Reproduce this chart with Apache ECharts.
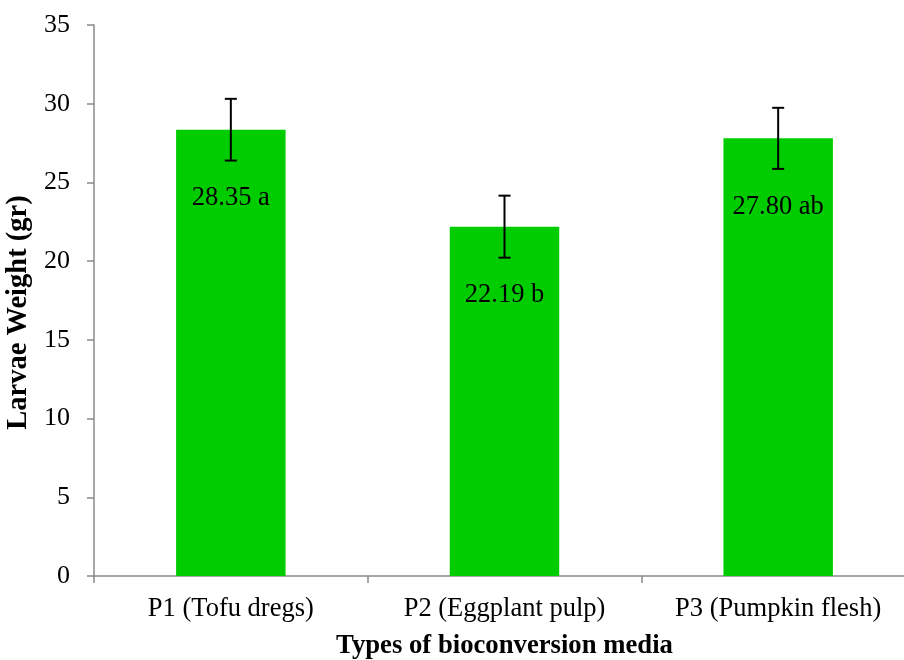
<!DOCTYPE html>
<html><head><meta charset="utf-8">
<script src="https://cdn.jsdelivr.net/npm/echarts@6/dist/echarts.min.js"></script>
<style>html,body{margin:0;padding:0;background:#fff}#c{width:904px;height:660px}</style>
</head><body><div id="c"></div>
<script>
var categories = ['P1 (Tofu dregs)', 'P2 (Eggplant pulp)', 'P3 (Pumpkin flesh)'];
var weights = [28.35, 22.19, 27.80];
var errors = [1.96, 1.97, 1.94];
var labels = ['28.35 a', '22.19 b', '27.80 ab'];
var yTicks = [0, 5, 10, 15, 20, 25, 30, 35];

var font = '"Liberation Serif", "Times New Roman", serif';
var chart = echarts.init(document.getElementById('c'));
var errData = weights.map(function (v, i) { return [i, v - errors[i], v + errors[i]]; });
chart.setOption({
  animation: false,
  grid: { left: 94, right: -11, top: 25, bottom: 84, containLabel: false, outerBoundsMode: 'none' },
  xAxis: {
    type: 'category', data: categories,
    name: 'Types of bioconversion media', nameLocation: 'middle', nameGap: 57,
    nameTextStyle: { fontFamily: font, fontWeight: 'bold', fontSize: 26.7, color: '#000' },
    axisLine: { lineStyle: { color: '#898989', width: 1.5 } },
    axisTick: { show: true, length: 7, lineStyle: { color: '#898989', width: 1.5 } },
    axisLabel: { fontFamily: font, fontSize: 26.5, color: '#000', margin: 20 }
  },
  yAxis: {
    type: 'value', min: 0, max: 35, interval: 5,
    name: 'Larvae Weight (gr)', nameLocation: 'middle', nameGap: 55, nameRotate: 90,
    nameTextStyle: { fontFamily: font, fontWeight: 'bold', fontSize: 28.5, color: '#000', padding: [0, 24, 0, 0] },
    axisLine: { show: true, lineStyle: { color: '#898989', width: 1.5 } },
    axisTick: { show: true, length: 7, lineStyle: { color: '#898989', width: 1.5 } },
    splitLine: { show: false },
    axisLabel: { fontFamily: font, fontSize: 26, color: '#000', margin: 24,
      formatter: function (v) { return yTicks.indexOf(v) >= 0 ? String(v) : ''; } }
  },
  series: [{
    type: 'bar', data: weights, barWidth: '40%',
    itemStyle: { color: '#00CC00' },
    label: { show: true, position: 'insideTop', distance: 55, fontFamily: font, fontSize: 26.5, color: '#000',
      formatter: function (p) { return labels[p.dataIndex]; } }
  }, {
    type: 'custom', data: errData, z: 10,
    renderItem: function (params, api) {
      var x = api.value(0);
      var lo = api.coord([x, api.value(1)]);
      var hi = api.coord([x, api.value(2)]);
      var hw = 6;
      var st = { stroke: '#000', lineWidth: 2 };
      return { type: 'group', children: [
        { type: 'line', shape: { x1: lo[0], y1: lo[1], x2: hi[0], y2: hi[1] }, style: st },
        { type: 'line', shape: { x1: lo[0] - hw, y1: lo[1], x2: lo[0] + hw, y2: lo[1] }, style: st },
        { type: 'line', shape: { x1: hi[0] - hw, y1: hi[1], x2: hi[0] + hw, y2: hi[1] }, style: st }
      ] };
    }
  }]
});
</script></body></html>
